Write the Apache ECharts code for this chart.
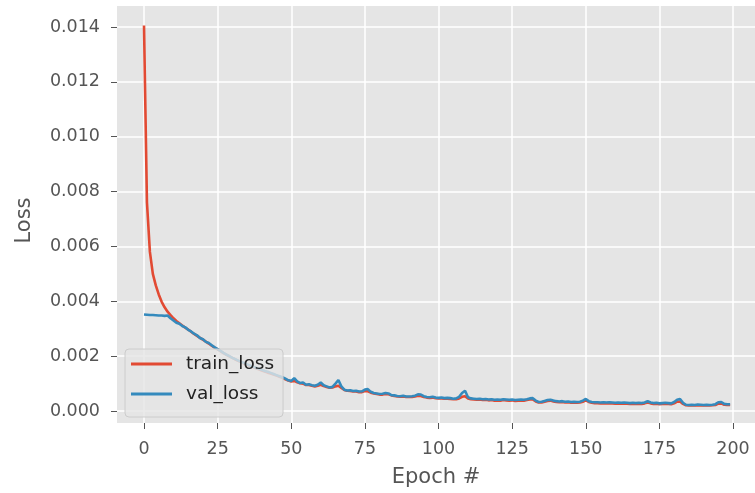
<!DOCTYPE html>
<html>
<head>
<meta charset="utf-8">
<script src="https://cdn.jsdelivr.net/npm/echarts@6/dist/echarts.min.js"></script>
<style>
  html, body { margin: 0; padding: 0; background: #fff; }
  #echarts-main { width: 755px; height: 493px; }
</style>
</head>
<body>
<div id="echarts-main"></div>
<script>
// loss per epoch (epoch = array index)
var trainLoss = [
	0.01405, 0.00760, 0.00580, 0.00500, 0.00458, 0.00425, 0.00398, 0.00378, 0.00362, 0.00350,
	0.00338, 0.00328, 0.00320, 0.00312, 0.00304, 0.00297, 0.00289, 0.00281, 0.00274, 0.00267,
	0.00260, 0.00253, 0.00246, 0.00238, 0.00231, 0.00225, 0.00218, 0.00211, 0.00205, 0.00199,
	0.00194, 0.00188, 0.00183, 0.00178, 0.00173, 0.00169, 0.00164, 0.00160, 0.00156, 0.00152,
	0.00148, 0.00144, 0.00140, 0.00137, 0.00133, 0.00129, 0.00125, 0.00121, 0.00116, 0.00111,
	0.00108, 0.00110, 0.00105, 0.00101, 0.00100, 0.00095, 0.00095, 0.00092, 0.00090, 0.00092,
	0.00096, 0.00091, 0.00088, 0.00085, 0.00086, 0.00090, 0.00092, 0.00084, 0.00077, 0.00074,
	0.00073, 0.00071, 0.00071, 0.00069, 0.00069, 0.00073, 0.00072, 0.00067, 0.00064, 0.00062,
	0.00060, 0.00060, 0.00062, 0.00061, 0.00057, 0.00055, 0.00053, 0.00052, 0.00053, 0.00051,
	0.00051, 0.00051, 0.00053, 0.00056, 0.00055, 0.00051, 0.00049, 0.00048, 0.00049, 0.00047,
	0.00046, 0.00046, 0.00045, 0.00045, 0.00044, 0.00043, 0.00043, 0.00046, 0.00052, 0.00054,
	0.00046, 0.00043, 0.00042, 0.00041, 0.00042, 0.00040, 0.00041, 0.00039, 0.00040, 0.00038,
	0.00039, 0.00038, 0.00040, 0.00039, 0.00038, 0.00039, 0.00037, 0.00038, 0.00039, 0.00038,
	0.00040, 0.00042, 0.00042, 0.00035, 0.00031, 0.00031, 0.00034, 0.00037, 0.00038, 0.00035,
	0.00033, 0.00032, 0.00033, 0.00031, 0.00032, 0.00030, 0.00031, 0.00030, 0.00031, 0.00034,
	0.00039, 0.00033, 0.00030, 0.00029, 0.00029, 0.00028, 0.00029, 0.00028, 0.00029, 0.00028,
	0.00027, 0.00028, 0.00027, 0.00028, 0.00027, 0.00026, 0.00027, 0.00026, 0.00027, 0.00026,
	0.00028, 0.00031, 0.00028, 0.00026, 0.00027, 0.00025, 0.00026, 0.00027, 0.00026, 0.00025,
	0.00028, 0.00034, 0.00035, 0.00026, 0.00021, 0.00020, 0.00021, 0.00020, 0.00021, 0.00020,
	0.00020, 0.00021, 0.00020, 0.00021, 0.00022, 0.00027, 0.00028, 0.00023, 0.00022, 0.00022
];
var valLoss = [
	0.00352, 0.00351, 0.00350, 0.00350, 0.00349, 0.00348, 0.00348, 0.00347, 0.00348, 0.00338,
	0.00330, 0.00322, 0.00318, 0.00310, 0.00305, 0.00296, 0.00290, 0.00282, 0.00276, 0.00266,
	0.00262, 0.00252, 0.00248, 0.00240, 0.00232, 0.00226, 0.00219, 0.00212, 0.00206, 0.00200,
	0.00194, 0.00189, 0.00184, 0.00179, 0.00175, 0.00170, 0.00166, 0.00162, 0.00158, 0.00154,
	0.00150, 0.00146, 0.00143, 0.00139, 0.00135, 0.00131, 0.00127, 0.00123, 0.00118, 0.00112,
	0.00110, 0.00120, 0.00108, 0.00102, 0.00104, 0.00096, 0.00098, 0.00094, 0.00092, 0.00096,
	0.00104, 0.00094, 0.00090, 0.00086, 0.00088, 0.00100, 0.00113, 0.00090, 0.00078, 0.00075,
	0.00076, 0.00073, 0.00074, 0.00071, 0.00072, 0.00078, 0.00080, 0.00070, 0.00066, 0.00064,
	0.00062, 0.00063, 0.00066, 0.00064, 0.00058, 0.00057, 0.00055, 0.00054, 0.00056, 0.00053,
	0.00053, 0.00054, 0.00056, 0.00061, 0.00060, 0.00054, 0.00051, 0.00050, 0.00052, 0.00049,
	0.00048, 0.00049, 0.00047, 0.00048, 0.00047, 0.00045, 0.00046, 0.00052, 0.00066, 0.00074,
	0.00050, 0.00046, 0.00045, 0.00044, 0.00045, 0.00043, 0.00044, 0.00042, 0.00043, 0.00041,
	0.00042, 0.00041, 0.00043, 0.00042, 0.00041, 0.00042, 0.00040, 0.00041, 0.00042, 0.00041,
	0.00043, 0.00046, 0.00047, 0.00038, 0.00033, 0.00034, 0.00037, 0.00040, 0.00041, 0.00038,
	0.00036, 0.00035, 0.00036, 0.00034, 0.00035, 0.00033, 0.00034, 0.00033, 0.00034, 0.00038,
	0.00044, 0.00036, 0.00033, 0.00032, 0.00032, 0.00031, 0.00032, 0.00031, 0.00032, 0.00031,
	0.00030, 0.00031, 0.00030, 0.00031, 0.00030, 0.00029, 0.00030, 0.00029, 0.00030, 0.00029,
	0.00031, 0.00036, 0.00031, 0.00029, 0.00030, 0.00028, 0.00029, 0.00030, 0.00029, 0.00028,
	0.00033, 0.00041, 0.00044, 0.00030, 0.00023, 0.00022, 0.00023, 0.00022, 0.00024, 0.00023,
	0.00022, 0.00023, 0.00022, 0.00023, 0.00025, 0.00032, 0.00033, 0.00026, 0.00025, 0.00025
];
var xTicks = [0, 25, 50, 75, 100, 125, 150, 175, 200];
var yTicks = [0, 0.002, 0.004, 0.006, 0.008, 0.010, 0.012, 0.014];

var myChart = echarts.init(document.getElementById('echarts-main'));
var font = 'DejaVu Sans';
var colors = ['#E24A33', '#348ABD'];

function pairs(arr) {
	var out = [];
	for (var i = 0; i < arr.length; i++) out.push([i, arr[i]]);
	return out;
}

var option = {
	animation: false,
	color: colors,
	textStyle: { fontFamily: font },
	grid: {
		left: 117, right: 0, top: 6, bottom: 69,
		show: true, backgroundColor: '#E5E5E5', borderWidth: 0
	},
	legend: {
		orient: 'vertical',
		left: 125, top: 349,
		padding: [5, 9, 13, 6],
		itemWidth: 41, itemHeight: 3, itemGap: 10,
		icon: 'rect',
		backgroundColor: 'rgba(229,229,229,0.8)',
		borderColor: '#cccccc', borderWidth: 1, borderRadius: 4,
		textStyle: { fontFamily: font, fontSize: 18.5, color: '#222', lineHeight: 20, padding: [0, 0, 0, 9] },
		data: ['train_loss', 'val_loss'],
		z: 10
	},
	xAxis: {
		type: 'value',
		min: -9.17, max: 207.45,
		name: 'Epoch #', nameLocation: 'middle', nameGap: 44,
		nameTextStyle: { fontFamily: font, fontSize: 21, color: '#555555' },
		axisLine: { show: true, onZero: false, lineStyle: { color: 'rgba(0,0,0,0)' } },
		axisTick: { show: true, length: 6, lineStyle: { color: '#555555' }, customValues: xTicks },
		axisLabel: { fontFamily: font, fontSize: 17.5, color: '#555555', margin: 17, customValues: xTicks },
		splitLine: { show: true, lineStyle: { color: '#ffffff', width: 1.5 } }
	},
	yAxis: {
		type: 'value',
		min: -0.000436, max: 0.014764,
		name: 'Loss', nameLocation: 'middle', nameGap: 82,
		nameTextStyle: { fontFamily: font, fontSize: 21, color: '#555555', padding: [0, 12, 0, 0] },
		axisLine: { show: true, onZero: false, lineStyle: { color: 'rgba(0,0,0,0)' } },
		axisTick: { show: true, length: 6, lineStyle: { color: '#555555' }, customValues: yTicks },
		axisLabel: {
			fontFamily: font, fontSize: 17.5, color: '#555555', margin: 17, customValues: yTicks,
			formatter: function (v) { return v.toFixed(3); }
		},
		splitLine: { show: true, lineStyle: { color: '#ffffff', width: 1.5 } }
	},
	series: [
		{
			name: 'train_loss', type: 'line', data: pairs(trainLoss),
			showSymbol: false, symbol: 'none',
			lineStyle: { width: 2.6, color: colors[0] },
			itemStyle: { color: colors[0] },
			emphasis: { disabled: true }
		},
		{
			name: 'val_loss', type: 'line', data: pairs(valLoss),
			showSymbol: false, symbol: 'none',
			lineStyle: { width: 2.6, color: colors[1] },
			itemStyle: { color: colors[1] },
			emphasis: { disabled: true }
		}
	]
};

myChart.setOption(option);
</script>
</body>
</html>
